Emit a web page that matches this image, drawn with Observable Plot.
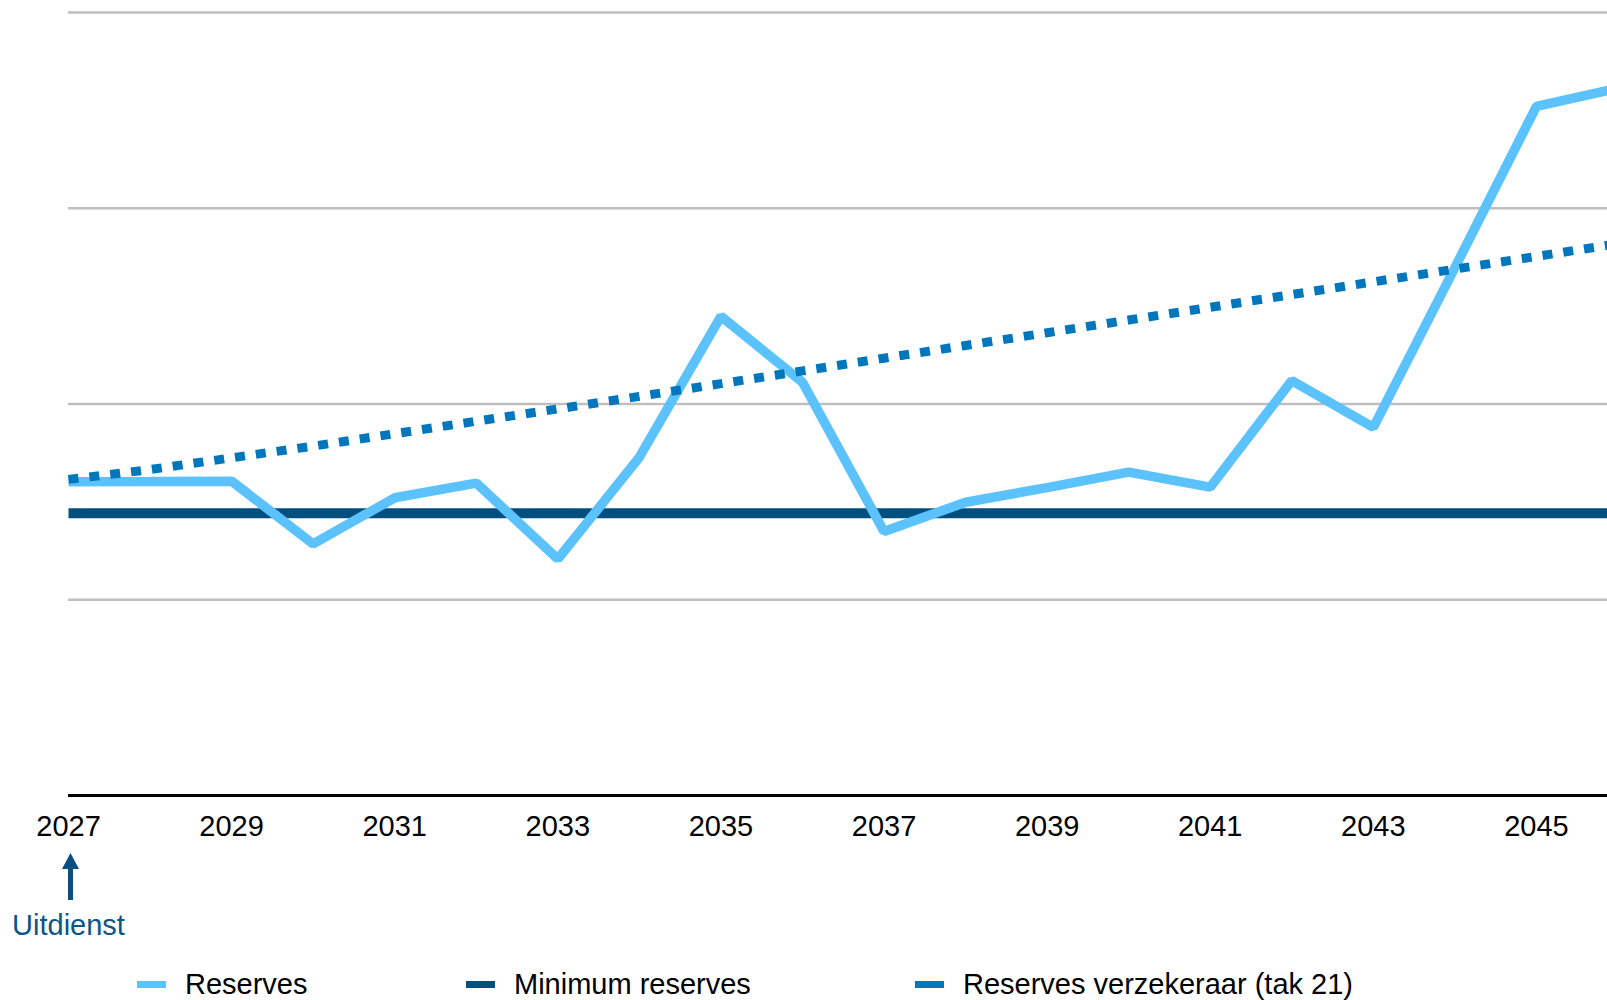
<!DOCTYPE html>
<html>
<head>
<meta charset="utf-8">
<script src="https://cdn.jsdelivr.net/npm/d3@7"></script>
<script src="https://cdn.jsdelivr.net/npm/@observablehq/plot@0.6"></script>
<style>
  html, body { margin: 0; padding: 0; background: #fff; overflow: hidden; }
  body { width: 1607px; height: 1000px; font-family: "Liberation Sans", Arial, sans-serif; }
  #chart svg { display: block; overflow: hidden; }
  .legend { position: relative; height: 50px; width: 1607px; }
  .legend .item { position: absolute; top: 9px; height: 50px; display: flex; align-items: center; font-size: 29px; color: #000; white-space: nowrap; }
  .legend .sw { width: 29px; height: 7px; margin-right: 19px; }
</style>
</head>
<body>
<div id="chart"></div>
<div class="legend" id="legend"></div>
<script>
// ---- data ----
const years = [2027, 2028, 2029, 2030, 2031, 2032, 2033, 2034, 2035, 2036, 2037, 2038, 2039, 2040, 2041, 2042, 2043, 2044, 2045, 2046];
const reserves = [160.3, 160.4, 160.6, 128.5, 152.1, 159.6, 120.8, 172.8, 244.8, 211.1, 134.9, 149.8, 157.3, 165.2, 157.5, 212.0, 188.1, 269.7, 352.0, 361.4];
const minimumReserves = [144.2, 144.2, 144.2, 144.2, 144.2, 144.2, 144.2, 144.2, 144.2, 144.2, 144.2, 144.2, 144.2, 144.2, 144.2, 144.2, 144.2, 144.2, 144.2, 144.2];
const reservesVerzekeraar = [161.5, 166.5, 172.5, 178.5, 184.8, 191.2, 197.5, 203.9, 210.4, 216.9, 223.4, 229.9, 236.4, 242.9, 249.4, 255.9, 262.4, 268.9, 275.4, 281.9];
const tickYears = [2027, 2029, 2031, 2033, 2035, 2037, 2039, 2041, 2043, 2045];
const gridValues = [100, 200, 300, 400];
const seriesNames = ["Reserves", "Minimum reserves", "Reserves verzekeraar (tak 21)"];
const seriesColors = ["#5bc2fd", "#004f7f", "#0077bd"];
const annotationYear = 2027;
const annotationLabel = "Uitdienst";

const rows = (vals) => years.map((year, i) => ({year, value: vals[i]}));

const plot = Plot.plot({
  width: 1607,
  height: 950,
  marginLeft: 68,
  marginRight: 0,
  marginTop: 12,
  marginBottom: 155,
  style: {fontFamily: "'Liberation Sans', Arial, sans-serif", fontSize: "29px", color: "#000", background: "#fff", overflow: "hidden"},
  x: {domain: [2027, 2046], range: [68, 1617.5], ticks: tickYears, tickSize: 0, tickPadding: 20, tickFormat: d => String(d), label: null},
  y: {domain: [0, 400], range: [795, 12], axis: null},
  marks: [
    Plot.ruleY(gridValues, {stroke: "#bfbfbf", strokeWidth: 2.5}),
    Plot.ruleY([0], {stroke: "#000", strokeWidth: 3}),
    Plot.line(rows(minimumReserves), {x: "year", y: "value", stroke: seriesColors[1], strokeWidth: 10, strokeLinecap: "butt"}),
    Plot.line(rows(reserves), {x: "year", y: "value", stroke: seriesColors[0], strokeWidth: 9.5, strokeLinejoin: "miter", strokeLinecap: "butt"}),
    Plot.line(rows(reservesVerzekeraar), {x: "year", y: "value", stroke: seriesColors[2], strokeWidth: 9, strokeDasharray: "10,11", strokeLinecap: "butt"}),
    Plot.text([annotationLabel], {x: () => annotationYear, text: d => d, frameAnchor: "bottom", dy: 139, fill: "#0b5587", fontSize: 29, textAnchor: "middle"})
  ]
});

// annotation arrow positioned through the x scale
const ax = plot.scale("x").apply(annotationYear) + 2.5;
d3.select(plot).append("path")
  .attr("d", `M${ax - 2.5},900 V869 H${ax - 8.5} L${ax},853 L${ax + 8.5},869 H${ax + 2.5} V900 Z`)
  .attr("fill", "#0b4f80");

document.getElementById("chart").appendChild(plot);

// legend
const legendLefts = [137, 466, 915];
const legend = document.getElementById("legend");
seriesNames.forEach((name, i) => {
  const item = document.createElement("div");
  item.className = "item";
  item.style.left = legendLefts[i] + "px";
  item.innerHTML = `<span class="sw" style="background:${seriesColors[i]}"></span><span>${name}</span>`;
  legend.appendChild(item);
});
</script>
</body>
</html>
